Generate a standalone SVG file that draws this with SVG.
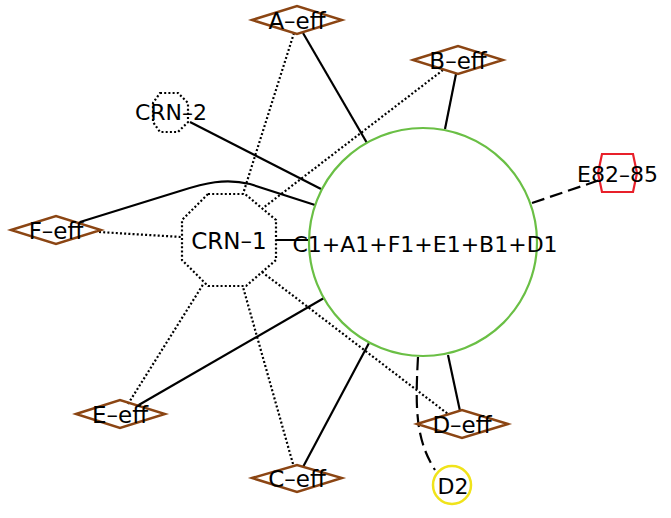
<svg xmlns="http://www.w3.org/2000/svg" width="671" height="518" viewBox="0 0 671 518">
<style>
.edge{fill:none;stroke:#000;stroke-width:2.2}
.dot{stroke-dasharray:2,2.2}
.dash{stroke-dasharray:13,6}
.eff{fill:none;stroke:#8b4513;stroke-width:2.4}
.crn{fill:none;stroke:#000;stroke-width:2.2;stroke-dasharray:2,2.2}
text{font-family:"DejaVu Sans","Noto Sans",sans-serif;font-size:22px;fill:#000;text-anchor:middle}
.small{font-size:23px}
</style>
<rect width="671" height="518" fill="#fff"/>
<g id="connectors">
<path class="edge" d="M303,33 L367,143"/>
<path class="edge dot" d="M294,33 L243,194"/>
<path class="edge" d="M456,74 L445,129"/>
<path class="edge dot" d="M443,70 L263,208"/>
<path class="edge" d="M190,122 L321,189"/>
<path class="edge" d="M80,222 L180,191 C205,183 225,178 250,184 L315,205"/>
<path class="edge dot" d="M99,232 L181,237"/>
<path class="edge" d="M276,240 L310,240"/>
<path class="edge" d="M137,406 L324,298"/>
<path class="edge dot" d="M128,404 L204,283"/>
<path class="edge" d="M303,467 L369,343"/>
<path class="edge dot" d="M293,464 L243,287"/>
<path class="edge dot" d="M262,272 L448,414"/>
<path class="edge" d="M460,411 L448,355"/>
<path class="edge dash" d="M418,357 C415,410 416,440 435,470"/>
<path class="edge dash" d="M532,203 L600,180"/>
</g>
<g id="main">
<circle cx="423" cy="242" r="114" fill="none" stroke="#6abf45" stroke-width="2.2"/>
<text x="425" y="251.5">C1+A1+F1+E1+B1+D1</text>
</g>
<g id="crn1">
<polygon class="crn" points="208,194 245,194 276,220 276,260 246,286 208,286 182,260 182,220"/>
<text x="229" y="249" class="small">CRN–1</text>
</g>
<g id="crn2">
<polygon class="crn" points="160,93 178,93 188,103 188,122 178,132 160,132 153,122 153,103"/>
<text x="171" y="120">CRN–2</text>
</g>
<g id="a-eff">
<polygon class="eff" points="252,20 297,6 342,20 297,34"/>
<text x="297" y="28.5" class="small">A–eff</text>
</g>
<g id="b-eff">
<polygon class="eff" points="413,60 458,46 503,60 458,74"/>
<text x="458" y="68.5" class="small">B–eff</text>
</g>
<g id="f-eff">
<polygon class="eff" points="11,230 56,216 101,230 56,244"/>
<text x="56" y="239" class="small">F–eff</text>
</g>
<g id="e-eff">
<polygon class="eff" points="76,414 120,400 165,414 120,428"/>
<text x="120" y="423" class="small">E–eff</text>
</g>
<g id="c-eff">
<polygon class="eff" points="252,478 297,465 342,478 297,492"/>
<text x="297" y="487" class="small">C–eff</text>
</g>
<g id="d-eff">
<polygon class="eff" points="417,424 462,410 508,424 462,438"/>
<text x="462" y="433" class="small">D–eff</text>
</g>
<g id="e82-85">
<polygon points="602,154 633,154 637,173 633,192 602,192 598,173" fill="none" stroke="#e8202a" stroke-width="2.2"/>
<text x="617.5" y="181.5">E82–85</text>
</g>
<g id="d2">
<circle cx="452" cy="485" r="19" fill="none" stroke="#f0e31a" stroke-width="2.5"/>
<text x="453" y="493.5">D2</text>
</g>
</svg>
